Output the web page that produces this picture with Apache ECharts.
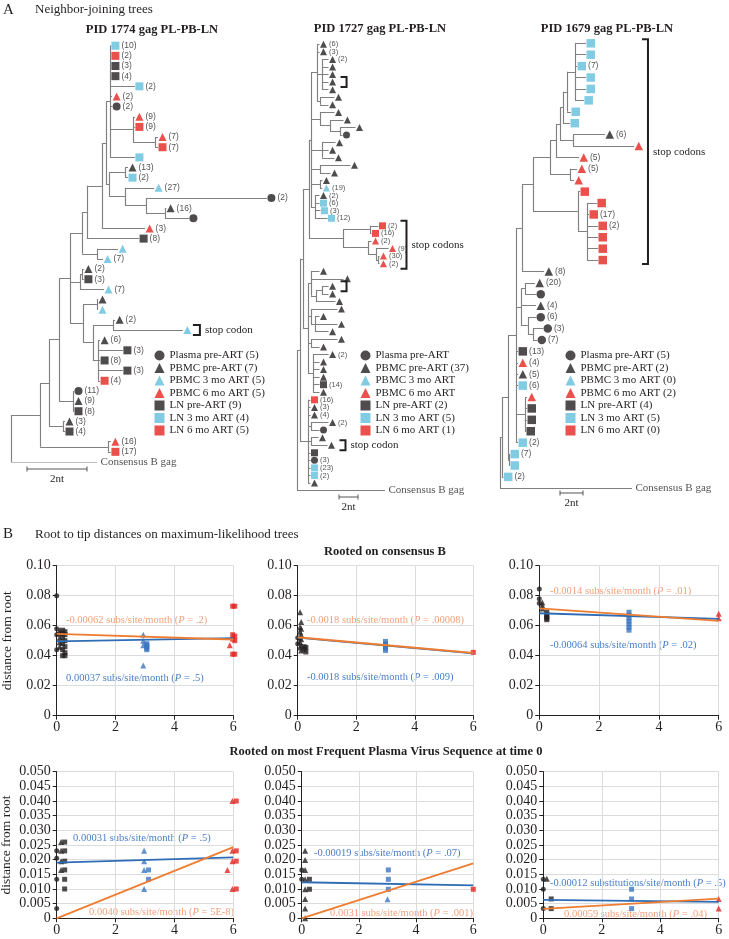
<!DOCTYPE html>
<html><head><meta charset="utf-8">
<script src="https://cdn.jsdelivr.net/npm/echarts@6/dist/echarts.min.js"></script>
<style>html,body{margin:0;padding:0;background:#fff}#c{width:729px;height:939px}</style>
</head><body><div id="c"></div>
<script>
const SERIF = '"Liberation Serif","Times New Roman",serif';
const SANS = '"Liberation Sans",Arial,sans-serif';
const TICKFONT = '"Liberation Serif",serif';

// ================= A: neighbour-joining trees =================
// internal node: [depthNt, child, child, ...]   leaf: [code, depthNt, count]
const tree1774 = [0,
  [0.97,
    [1.27,
      [1.6,
        [1.97,
          [2.37,
            [2.53,
              [3.03,
                [3.17,
                  [3.3,
                    ['LN3',3.33,'10'], ['LN6',3.33,'2'], ['LN0',3.33,'3'], ['LN0',3.33,'4'],
                    ['LN3',4.13,'2'], ['PB6',3.37,'2'], ['PL',3.37,'2'],
                    [4.07, ['PB6',4.13,'9'], ['LN6',4.13,'9'],
                      [4.8, ['PB6',4.9,'7'], ['LN6',4.9,'7']]],
                    ['LN3',4.13,'']],
                  [3.27,
                    [3.8, ['PB0',3.9,'13'], ['LN3',3.9,'2']],
                    [3.8, ['PB3',4.77,'27'],
                      [4.5, ['PL',8.53,'2'],
                        [5.13, ['PB0',5.17,'16'], ['PL',5.93,'']]]]]],
                ['PB6',4.47,'3']],
              ['LN0',4.27,'8']],
            [2.87, ['PB3',3.57,''], ['PB3',3.07,'7']]],
          [2.3, [2.37, ['PB0',2.43,'2'], ['LN0',2.43,'3']], ['PB3',3.1,'7']],
          [2.4,
            [2.87, ['PB0',2.9,''], ['PB3',2.9,'']],
            [2.73,
              [3.4, ['PB0',3.47,'2'], ['PB3',5.73,'']],
              [2.9, ['PB0',2.97,'6'], ['LN0',3.73,'3'], ['LN0',2.97,'8'], ['LN0',3.73,'3'], ['LN6',2.97,'4']]]]],
        [2.07, ['PL',2.1,'11'], ['PB0',2.1,'9'], ['LN0',2.1,'8']]],
      [1.73, ['PB0',1.8,'3'], ['LN0',1.8,'4']]],
    [3.23, ['PB6',3.33,'16'], ['LN6',3.33,'17']]],
  ['CONS',2.87,'Consensus B gag']];

const tree1727 = [0,
  [0.32,
    [0.63,
      [1.26,
        [1.47,
          [2.11, ['PB0',2.37,'6'], ['PB0',2.37,'3'],
            [2.63, ['PB0',3.32,'2'], ['PB0',3.32,''], ['PB0',3.32,''], ['PB0',3.32,''], ['PB0',3.32,'']],
            [2.42, ['PB0',3.95,''], ['PB0',3.32,'']]],
          [2.42, ['PB0',3.95,''], [3.47, ['PB0',4.89,''], [4.53, ['PB0',6.16,''], ['PL',4.79,'']]]],
          [2.63, ['PB0',4.05,''], ['PB0',3.32,''], ['PB0',3.95,'']],
          [2.42, ['PB0',5.63,''], ['PB0',3.53,'']],
          [2.42, ['PB0',2.68,''], ['PB3',2.68,'19']],
          [1.89, ['PB0',2.37,'2'], ['LN3',2.37,'6'], ['LN3',2.47,'3'], ['LN3',3.21,'12']]],
        [4.84,
          [7.68, ['LN6',8.58,'2'], ['LN6',7.84,'16']],
          [7.47, ['PB6',7.84,'2'],
            [8.32, ['PB6',9.63,'9'], [8.53, ['PB6',8.68,'30'], ['PB6',8.68,'2']]]]]],
      [1.16,
        [1.47, ['PB0',2.37,''], ['PB0',4.89,''], [2.0, [2.63, ['PB0',3.32,''], ['PB0',3.32,'']], ['PB0',4.05,'']]],
        [1.47, ['PB0',4.26,''], [1.89, ['PB0',2.37,''], ['PB0',4.26,''], ['PB0',3.32,'']]],
        [1.47, ['PB0',4.26,''], ['PB0',2.37,'']],
        [1.68, ['PB0',3.32,'2'], ['PB0',2.37,''], ['PB0',2.37,''], ['PB0',2.37,''], ['LN0',2.37,'14'], ['PB0',2.37,'']]]],
    [1.16, ['LN6',1.42,'16'], ['PB0',1.42,'3'], ['PB0',1.42,'4'],
      [1.47, ['PB0',3.32,'2'], ['PL',2.37,'']],
      [1.47, ['PB0',2.26,''], ['PB0',3.21,'']],
      ['LN0',1.42,''], ['PL',1.42,'3'], ['LN3',1.42,'23'], ['LN3',1.42,'2'], ['PB0',1.42,'']]],
  ['CONS',9.26,'Consensus B gag']];

const tree1679 = [0,
  [0.17,
    [0.70,
      [1.39,
        [1.91,
          [2.87,
            [4.35,
              [4.87,
                [5.22,
                  [5.48,
                    [5.83,
                      [6.52, ['LN3',7.48,''], ['LN3',7.48,''], ['LN3',6.70,'7'], ['LN3',7.48,''], ['LN3',7.48,''], ['LN3',7.30,'']],
                      ['LN3',6.17,'']],
                    ['LN3',6.09,'']],
                  [6.35, ['PB0',9.13,'6'], ['PB6',11.65,'']]],
                ['PB6',6.87,'5']],
              [6.09, ['PB6',6.70,'5'], ['PB6',6.43,'']]],
            [6.78, ['LN6',6.96,''],
              [7.57, ['LN6',8.43,''], ['LN6',7.74,'17'], ['LN6',8.52,'2'], ['LN6',8.52,''], ['LN6',8.52,''], ['LN6',8.52,'']]]],
          ['PB0',3.83,'8']],
        [1.83, [2.17, ['PB0',3.04,'20'], ['PL',3.13,'']], ['PB0',3.13,'4'],
          [2.43, ['PL',3.13,'6'], [2.87, ['PL',3.74,'3'], ['PL',3.22,'7']]]],
        ['LN0',1.57,'13'], ['PB6',1.57,'4'], ['PB0',1.57,'5'], ['LN3',1.57,'6'],
        [2.17, ['PB6',2.35,''], ['LN0',2.35,''], ['LN0',2.35,''], ['LN0',2.26,'']],
        ['LN3',1.57,'2']],
      [0.78, ['LN3',0.87,'7'], ['LN3',0.87,'']]],
    ['LN3',0.30,'2']],
  ['CONS',11.48,'Consensus B gag']];

// brackets: [firstLeaf, lastLeaf, label]
const brackets1774 = [[28,28,'stop codon']];
const brackets1727 = [[5,5,''],[24,29,'stop codons'],[32,32,''],[53,53,'stop codon']];
const brackets1679 = [[0,19,'stop codons']];

const treeTitles = ['PID 1774 gag PL-PB-LN','PID 1727 gag PL-PB-LN','PID 1679 gag PL-PB-LN'];
const legendCodes = ['PL','PB0','PB3','PB6','LN0','LN3','LN6'];
const legend1774 = ['Plasma pre-ART (5)','PBMC pre-ART (7)','PBMC 3 mo ART (5)','PBMC 6 mo ART (5)','LN pre-ART (9)','LN 3 mo ART (4)','LN 6 mo ART (5)'];
const legend1727 = ['Plasma pre-ART','PBMC pre-ART (37)','PBMC 3 mo ART','PBMC 6 mo ART','LN pre-ART (2)','LN 3 mo ART (5)','LN 6 mo ART (1)'];
const legend1679 = ['Plasma pre-ART (5)','PBMC pre-ART (2)','PBMC 3 mo ART (0)','PBMC 6 mo ART (2)','LN pre-ART (4)','LN 3 mo ART (5)','LN 6 mo ART (0)'];
const scaleBarNt = 2;

// ================= B: root-to-tip distances =================
// [group, months, distance]
const pts1 = [
 ['PL0',0,0.080],['PL0',0,0.058],['PL0',0,0.054],['PL0',0,0.044],
 ['PB0',0.1,0.057],['PB0',0.1,0.055],['PB0',0.1,0.052],['PB0',0.1,0.049],['PB0',0.1,0.046],
 ['LN0',0.2,0.057],['LN0',0.28,0.056],['LN0',0.2,0.055],['LN0',0.28,0.054],['LN0',0.2,0.052],['LN0',0.28,0.050],
 ['LN0',0.2,0.048],['LN0',0.28,0.046],['LN0',0.2,0.044],['LN0',0.28,0.042],['LN0',0.2,0.040],['LN0',0.28,0.040],
 ['PB3',2.94,0.054],['PB3',2.94,0.050],['PB3',2.94,0.047],['PB3',2.94,0.0335],
 ['LN3',3.06,0.048],['LN3',3.06,0.047],['LN3',3.06,0.046],['LN3',3.06,0.045],['LN3',3.06,0.044],
 ['PB6',5.88,0.047],
 ['LN6',5.98,0.073],['LN6',6.05,0.073],['LN6',5.98,0.054],['LN6',6.05,0.053],['LN6',5.98,0.051],['LN6',6.05,0.050],['LN6',5.98,0.041],['LN6',6.05,0.041]
];
const pts2 = [
 ['PL0',0,0.052],['PL0',0,0.048],
 ['PB0',0.08,0.069],['PB0',0.12,0.0625],['PB0',0.08,0.059],['PB0',0.12,0.058],['PB0',0.08,0.056],['PB0',0.12,0.054],
 ['PB0',0.08,0.052],['PB0',0.12,0.051],['PB0',0.08,0.049],['PB0',0.12,0.047],['PB0',0.08,0.0455],['PB0',0.12,0.0435],
 ['LN0',0.22,0.046],['LN0',0.28,0.0455],['LN0',0.22,0.044],['LN0',0.28,0.0425],
 ['LN3',3.0,0.0495],['LN3',3.0,0.048],['LN3',3.0,0.0465],['LN3',3.0,0.045],['LN3',3.0,0.0435],
 ['LN6',6.0,0.0422]
];
const pts3 = [
 ['PL0',0,0.0845],['PL0',0,0.078],['PL0',0,0.075],
 ['PB0',0.1,0.0755],['PB0',0.1,0.0735],['PB0',0.1,0.0715],
 ['LN0',0.25,0.069],['LN0',0.25,0.0675],['LN0',0.25,0.066],['LN0',0.25,0.065],['LN0',0.25,0.064],
 ['LN3',3.0,0.069],['LN3',3.0,0.067],['LN3',3.0,0.065],['LN3',3.0,0.063],['LN3',3.0,0.061],['LN3',3.0,0.059],['LN3',3.0,0.057],
 ['PB6',6.0,0.068],['PB6',6.0,0.065]
];
const pts4 = [
 ['PL0',0,0.023],['PL0',0,0.0205],['PL0',0,0.0133],['PL0',0,0.0033],
 ['PB0',0.15,0.026],['PB0',0.15,0.023],['PB0',0.15,0.0195],['PB0',0.15,0.0165],
 ['LN0',0.27,0.026],['LN0',0.27,0.023],['LN0',0.27,0.0195],['LN0',0.27,0.0165],['LN0',0.27,0.0133],['LN0',0.27,0.010],
 ['PB3',2.97,0.023],['PB3',2.97,0.0195],['PB3',2.97,0.0165],['PB3',2.97,0.010],
 ['LN3',3.12,0.0165],['LN3',3.12,0.0133],
 ['PB6',5.97,0.040],['PB6',5.97,0.023],['PB6',5.97,0.0195],['PB6',5.8,0.0165],['PB6',5.97,0.010],
 ['LN6',6.1,0.040],['LN6',6.1,0.023],['LN6',6.1,0.0195],['LN6',6.1,0.010]
];
const pts5 = [
 ['PL0',0,0.0165],['PL0',0,0.0133],
 ['PB0',0.12,0.023],['PB0',0.12,0.0199],['PB0',0.12,0.0165],['PB0',0.12,0.0133],['PB0',0.12,0.0099],['PB0',0.12,0.0066],['PB0',0.12,0.0033],['PB0',0.12,0.0],
 ['LN0',0.27,0.0133],['LN0',0.27,0.0099],
 ['PB3',3.0,0.0065],
 ['LN3',3.03,0.0165],['LN3',3.03,0.0133],['LN3',3.03,0.0099],
 ['LN6',6.0,0.0099]
];
const pts6 = [
 ['PL0',0,0.0133],['PL0',0,0.0099],['PL0',0,0.0033],
 ['PB0',0.12,0.0135],
 ['LN0',0.27,0.0066],['LN0',0.27,0.0033],
 ['LN3',3.02,0.0099],['LN3',3.02,0.0066],['LN3',3.02,0.0033],
 ['PB6',6.0,0.0066],['PB6',6.0,0.0033]
];
const fitMonths = [0, 6];
const fitBlue = [[0.0495,0.0517],[0.0520,0.0415],[0.0683,0.0645],[0.0190,0.0208],[0.0123,0.0112],[0.0063,0.0056]];
const fitOrange = [[0.0545,0.0508],[0.0523,0.0418],[0.0715,0.0632],[0.0,0.0243],[0.0,0.0187],[0.0032,0.0067]];
const noteBlue = [['0.00037 subs/site/month','.5'],['-0.0018 subs/site/month','.009'],['-0.00064 subs/site/month','.02'],
                  ['0.00031 subs/site/month','.5'],['-0.00019 subs/site/month','.07'],['-0.00012 substitutions/site/month','.5']];
const noteOrange = [['-0.00062 subs/site/month','.2'],['-0.0018 subs/site/month','.00008'],['-0.0014 subs/site/month','.01'],
                    ['0.0040 subs/site/month','5E-8'],['0.0031 subs/site/month','.001'],['0.00059 subs/site/month','.04']];
const rowTitles = ['Rooted on consensus B','Rooted on most Frequent Plasma Virus Sequence at time 0'];
const yAxisName = 'distance from root';

// ================= styles / layout =================
const BLACK = '#231f20';
const treeSym = {
  PL:{symbol:'circle',color:BLACK}, PB0:{symbol:'triangle',color:BLACK}, PB3:{symbol:'triangle',color:'#62bedc'},
  PB6:{symbol:'triangle',color:'#e5251f'}, LN0:{symbol:'rect',color:BLACK}, LN3:{symbol:'rect',color:'#62bedc'}, LN6:{symbol:'rect',color:'#e5251f'}
};
const ptSym = {
  PL0:{symbol:'circle',color:BLACK,size:5}, PB0:{symbol:'triangle',color:BLACK,size:6}, LN0:{symbol:'rect',color:BLACK,size:5},
  PB3:{symbol:'triangle',color:'#3b76c1',size:6}, LN3:{symbol:'rect',color:'#3b76c1',size:5},
  PB6:{symbol:'triangle',color:'#e5231e',size:6}, LN6:{symbol:'rect',color:'#e5231e',size:5}
};
const trees = [
  {tree:tree1774, brackets:brackets1774, legend:legend1774, left:11, top:45.7, width:270, height:416.3, xMax:9, sym:8, font:8.5,
   br:{off:10,w:7,ext:5}, legendPos:[154.5,350], title:[152,30], scale:[27,469]},
  {tree:tree1727, brackets:brackets1727, legend:legend1727, left:297, top:44.3, width:190, height:446.3, xMax:20, sym:7, font:7.5,
   br:{off:12,w:6,ext:5}, legendPos:[360.5,350], title:[380,29], scale:[339,497]},
  {tree:tree1679, brackets:brackets1679, legend:legend1679, left:500, top:43.3, width:230, height:445, xMax:20, sym:8.5, font:8.5,
   br:{off:8,w:6,ext:4}, legendPos:[565.5,350], title:[607,29], scale:[560,493]}
];
const panels = [
  {pts:pts1, grid:{left:56.7, top:565.7, width:176.6, height:150}, yMax:0.10, step:0.02, dec:2, blue:[66,678], orange:[66,620], nameGap:42},
  {pts:pts2, grid:{left:297.7, top:565.7, width:175.6, height:150}, yMax:0.10, step:0.02, dec:2, blue:[307,677], orange:[307,620]},
  {pts:pts3, grid:{left:539.3, top:565.7, width:179.4, height:150}, yMax:0.10, step:0.02, dec:2, blue:[550,645], orange:[550,591]},
  {pts:pts4, grid:{left:56.7, top:771.7, width:176.6, height:146.6}, yMax:0.05, step:0.005, dec:3, blue:[73,838], orange:[89,912], nameGap:43},
  {pts:pts5, grid:{left:301.7, top:771.7, width:171.6, height:146.6}, yMax:0.05, step:0.005, dec:3, blue:[314,853], orange:[330,913]},
  {pts:pts6, grid:{left:543.3, top:771.7, width:175.4, height:146.6}, yMax:0.05, step:0.005, dec:3, blue:[550,883], orange:[564,914]}
];

function layoutTree(tree) {
  const segs = [], leaves = [];
  let idx = 0;
  function walk(node, parentDepth) {
    if (typeof node[0] === 'string') {
      const y = idx++;
      if (parentDepth !== null) segs.push([[parentDepth, y], [node[1], y]]);
      leaves.push({code:node[0], depth:node[1], label:node[2], y});
      return y;
    }
    const d = node[0], ys = [];
    for (let i = 1; i < node.length; i++) ys.push(walk(node[i], d));
    const y = (ys[0] + ys[ys.length - 1]) / 2;
    segs.push([[d, ys[0]], [d, ys[ys.length - 1]]]);
    if (parentDepth !== null) segs.push([[parentDepth, y], [d, y]]);
    return y;
  }
  walk(tree, null);
  return {segs, leaves};
}

const grid = [], xAxis = [], yAxis = [], series = [], legend = [], graphic = [];
function txt(x, y, text, size, opts) {
  opts = opts || {};
  graphic.push({type:'text', x, y, silent:true, rotation: opts.rot || 0,
    style:{text, fill: opts.fill || BLACK, font: (opts.weight || 'normal') + ' ' + size + 'px ' + (opts.family || SERIF),
      align: opts.align || 'left', textAlign: opts.align || 'left', verticalAlign:'middle', textVerticalAlign:'middle', rich: opts.rich}});
}

trees.forEach((T, t) => {
  const L = layoutTree(T.tree);
  const yMax = L.leaves.length - 1;
  grid.push({left:T.left, top:T.top, width:T.width, height:T.height, outerBoundsMode:'none'});
  xAxis.push({gridIndex:t, type:'value', min:0, max:T.xMax, show:false});
  yAxis.push({gridIndex:t, type:'value', min:0, max:yMax, inverse:true, show:false});
  series.push({type:'lines', coordinateSystem:'cartesian2d', xAxisIndex:t, yAxisIndex:t, silent:true, z:1,
    lineStyle:{color:'#808080', width:1.15, opacity:1, curveness:0},
    data: L.segs.map(s => ({coords:s}))});
  series.push({type:'scatter', xAxisIndex:t, yAxisIndex:t, silent:true, clip:false, z:3,
    data: L.leaves.map(l => {
      if (l.code === 'CONS') return {value:[l.depth, l.y], symbol:'rect', symbolSize:1, itemStyle:{color:'rgba(0,0,0,0)'},
        label:{show:true, formatter:l.label, position:'right', distance:3, fontFamily:SERIF, fontSize:11, color:BLACK}};
      const st = treeSym[l.code];
      return {value:[l.depth, l.y], symbol:st.symbol, symbolSize:T.sym, symbolOffset:[T.sym/2 + 0.5, 0],
        itemStyle:{color:st.color},
        label:{show:!!l.label, formatter:'(' + l.label + ')', position:'right', distance:2, fontFamily:SANS, fontSize:T.font, color:BLACK}};
    })});
  const bdata = T.brackets.map(b => {
    let m = 0; for (let i = b[0]; i <= b[1]; i++) m = Math.max(m, L.leaves[i].depth);
    return [m, b[0], b[1]];
  });
  series.push({type:'custom', coordinateSystem:'cartesian2d', xAxisIndex:t, yAxisIndex:t, silent:true, clip:false, z:4, data:bdata,
    renderItem:(params, api) => {
      const a = api.coord([api.value(0), api.value(1)]);
      const b = api.coord([api.value(0), api.value(2)]);
      const x0 = a[0] + T.br.off, x1 = x0 + T.br.w, y0 = a[1] - T.br.ext, y1 = b[1] + T.br.ext;
      const lab = T.brackets[params.dataIndex][2];
      const ch = [{type:'polyline', shape:{points:[[x0,y0],[x1,y0],[x1,y1],[x0,y1]]}, style:{stroke:BLACK, lineWidth:2, fill:null}}];
      if (lab) ch.push({type:'text', x:x1 + 5, y:(y0 + y1) / 2,
        style:{text:lab, fill:BLACK, font:'11px ' + SERIF, align:'left', textAlign:'left', verticalAlign:'middle', textVerticalAlign:'middle'}});
      return {type:'group', children:ch};
    }});
  legend.push({orient:'vertical', left:T.legendPos[0], top:T.legendPos[1], itemWidth:10, itemHeight:10, itemGap:1.5,
    selectedMode:false, padding:0, textStyle:{fontFamily:SERIF, fontSize:11, color:BLACK},
    data: T.legend.map((n, i) => ({name:n, icon:treeSym[legendCodes[i]].symbol, itemStyle:{color:treeSym[legendCodes[i]].color}}))});
  txt(T.title[0], T.title[1], treeTitles[t], 12.5, {weight:'bold', align:'center'});
  const len = scaleBarNt * T.width / T.xMax, sx = T.scale[0], sy = T.scale[1];
  graphic.push({type:'polyline', silent:true, shape:{points:[[sx,sy],[sx+len,sy]]}, style:{stroke:'#555', lineWidth:1, fill:null}});
  graphic.push({type:'polyline', silent:true, shape:{points:[[sx,sy-2.5],[sx,sy+2.5]]}, style:{stroke:'#555', lineWidth:1, fill:null}});
  graphic.push({type:'polyline', silent:true, shape:{points:[[sx+len,sy-2.5],[sx+len,sy+2.5]]}, style:{stroke:'#555', lineWidth:1, fill:null}});
  txt(sx + len / 2, sy + 10, scaleBarNt + 'nt', 11, {align:'center'});
});

const seen = {};
trees.forEach(T => T.legend.forEach((n, i) => {
  if (seen[n]) return; seen[n] = 1;
  const st = treeSym[legendCodes[i]];
  series.push({type:'scatter', name:n, data:[], xAxisIndex:0, yAxisIndex:0, symbol:st.symbol, itemStyle:{color:st.color}});
}));

panels.forEach((P, k) => {
  const gi = 3 + k;
  grid.push(Object.assign({outerBoundsMode:'none'}, P.grid));
  xAxis.push({gridIndex:gi, type:'value', min:0, max:6, interval:2,
    axisLine:{show:true, onZero:false, lineStyle:{color:'#222', width:1}},
    axisTick:{show:true, length:4, lineStyle:{color:'#222'}},
    axisLabel:{fontFamily:TICKFONT, fontSize:14, color:BLACK, margin:5, interval:0, showMinLabel:true, showMaxLabel:true, hideOverlap:false},
    splitLine:{show:true, lineStyle:{color:'#dcdcdc', width:1}}});
  yAxis.push({gridIndex:gi, type:'value', min:0, max:P.yMax, interval:P.step,
    name: P.nameGap ? yAxisName : '', nameLocation:'middle', nameGap:P.nameGap || 40,
    nameTextStyle:{fontFamily:SERIF, fontSize:13.5, color:BLACK},
    axisLine:{show:true, onZero:false, lineStyle:{color:'#222', width:1}},
    axisTick:{show:true, length:4, lineStyle:{color:'#222'}},
    axisLabel:{fontFamily:TICKFONT, fontSize:14, color:BLACK, margin:6, interval:0, showMinLabel:true, showMaxLabel:true, hideOverlap:false,
      lineHeight:12, formatter: v => Math.abs(v) < 1e-12 ? '0' : v.toFixed(P.dec)},
    splitLine:{show:true, lineStyle:{color:'#dcdcdc', width:1}}});
  series.push({type:'scatter', xAxisIndex:gi, yAxisIndex:gi, silent:true, clip:false, z:3,
    data: P.pts.map(p => {
      const s = ptSym[p[0]];
      return {value:[p[1], p[2]], symbol:s.symbol, symbolSize:s.size, itemStyle:{color:s.color}};
    })});
  series.push({type:'line', xAxisIndex:gi, yAxisIndex:gi, silent:true, showSymbol:false, z:4,
    lineStyle:{color:'#2e6db6', width:1.8}, data: fitMonths.map((m, i) => [m, fitBlue[k][i]])});
  series.push({type:'line', xAxisIndex:gi, yAxisIndex:gi, silent:true, showSymbol:false, z:5,
    lineStyle:{color:'#ee7d31', width:1.8}, data: fitMonths.map((m, i) => [m, fitOrange[k][i]])});
  const mk = note => '{a|' + note[0] + ' (}{i|P}{a| = ' + note[1] + ')}';
  const rich = col => ({a:{fill:col, fontFamily:SERIF, fontSize:10.5}, i:{fill:col, fontFamily:SERIF, fontSize:10.5, fontStyle:'italic'}});
  txt(P.blue[0], P.blue[1], mk(noteBlue[k]), 10.5, {fill:'#4a7ec8', rich:rich('#4a7ec8')});
  txt(P.orange[0], P.orange[1], mk(noteOrange[k]), 10.5, {fill:'#f2a07a', rich:rich('#f2a07a')});
});

txt(3, 10, 'A', 15);
txt(35, 10, 'Neighbor-joining trees', 13);
txt(3, 534, 'B', 15);
txt(35, 535, 'Root to tip distances on maximum-likelihood trees', 13);
txt(385, 552, rowTitles[0], 12.5, {weight:'bold', align:'center'});
txt(386, 752, rowTitles[1], 12.5, {weight:'bold', align:'center'});

const chart = echarts.init(document.getElementById('c'), null, {renderer:'canvas'});
chart.setOption({animation:false, backgroundColor:'#fff', grid, xAxis, yAxis, legend, series, graphic});
</script></body></html>
